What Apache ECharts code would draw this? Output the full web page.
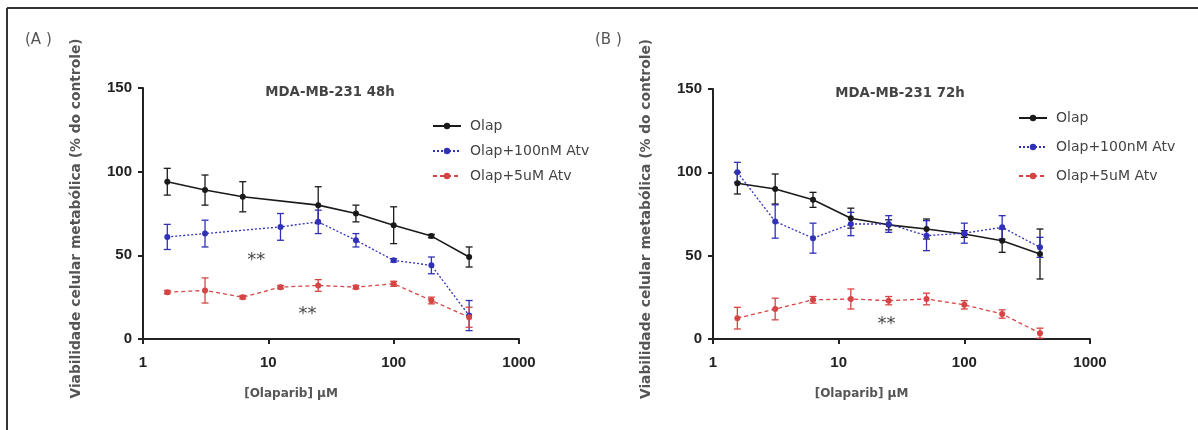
<!DOCTYPE html>
<html>
<head>
<meta charset="utf-8">
<script src="https://cdn.jsdelivr.net/npm/echarts@6/dist/echarts.min.js"></script>
<style>
html,body{margin:0;padding:0;background:#fff;}
#c{width:1198px;height:430px;}
</style>
</head>
<body>
<div id="c"></div>
<script>
// ---- data ----
const concentrations = [1.5625, 3.125, 6.25, 12.5, 25, 50, 100, 200, 400];
const seriesNames = ['Olap', 'Olap+100nM Atv', 'Olap+5uM Atv'];
const panelTitles = ['MDA-MB-231 48h', 'MDA-MB-231 72h'];
const panelLetters = ['(A )', '(B )'];
const xTicks = [1, 10, 100, 1000];
const yTicks = [0, 50, 100, 150];

// Panel A (48h)
const a_olap      = [94, 89, 85, null, 80, 75, 68, 61.5, 49];
const a_olap_err  = [8, 9, 9, null, 11, 5, 11, 1, 6];
const a_atv100    = [61, 63, null, 67, 70, 59, 47, 44, 14];
const a_atv100_err= [7.5, 8, null, 8, 7, 4, 1, 5, 9];
const a_atv5      = [28, 29, 25, 31, 32, 31, 33, 23, 13];
const a_atv5_err  = [1, 7.5, 1, 1, 3.5, 1, 1.5, 2, 6];

// Panel B (72h)
const b_olap      = [93.5, 90, 83.5, 72.5, 68.5, 66, 63, 59, 51];
const b_olap_err  = [6.5, 9, 4.5, 6, 3, 6, 2, 7, 15];
const b_atv100    = [100, 70.5, 60.5, 69, 69, 62, 63.5, 67, 55];
const b_atv100_err= [6, 10, 9, 7, 5, 9, 6, 7, 6];
const b_atv5      = [12.5, 18, 23.5, 24, 23, 24, 20.5, 15, 3.5];
const b_atv5_err  = [6.5, 6.5, 2, 6, 2.5, 3.5, 2.5, 2.5, 3];

// annotations "**" [x, y]
const a_stars = [[8, 47], [20.5, 15]];
const b_stars = [[24, 9]];

// ---- styles ----
const colors = ['#1a1a1a', '#3030b8', '#d64545'];
const dashes = ['solid', [2, 2], [4, 3]];

function pairs(vals) {
  const out = [];
  concentrations.forEach((c, i) => { if (vals[i] != null) out.push([c, vals[i]]); });
  return out;
}
function errTriples(vals, errs) {
  const out = [];
  concentrations.forEach((c, i) => { if (vals[i] != null) out.push([c, vals[i], errs[i]]); });
  return out;
}

function errorSeries(gi, vals, errs, color) {
  return {
    type: 'custom',
    xAxisIndex: gi, yAxisIndex: gi,
    silent: true,
    z: 1,
    data: errTriples(vals, errs),
    encode: { x: 0, y: 1 },
    renderItem: function (params, api) {
      const x = api.value(0), y = api.value(1), e = api.value(2);
      const top = api.coord([x, y + e]);
      const bot = api.coord([x, y - e]);
      const hw = 3.5;
      const st = { stroke: color, lineWidth: 1.3 };
      return {
        type: 'group',
        children: [
          { type: 'line', shape: { x1: top[0], y1: top[1], x2: bot[0], y2: bot[1] }, style: st },
          { type: 'line', shape: { x1: top[0] - hw, y1: top[1], x2: top[0] + hw, y2: top[1] }, style: st },
          { type: 'line', shape: { x1: bot[0] - hw, y1: bot[1], x2: bot[0] + hw, y2: bot[1] }, style: st }
        ]
      };
    }
  };
}

function lineSeries(gi, name, vals, idx) {
  return {
    type: 'line',
    name: name,
    xAxisIndex: gi, yAxisIndex: gi,
    data: pairs(vals),
    connectNulls: true,
    symbol: 'circle',
    symbolSize: 6,
    z: 3,
    lineStyle: { color: colors[idx], width: idx === 0 ? 1.6 : 1.3, type: dashes[idx] },
    itemStyle: { color: colors[idx] },
    emphasis: { disabled: true }
  };
}

function starSeries(gi, pts) {
  return {
    type: 'scatter',
    xAxisIndex: gi, yAxisIndex: gi,
    data: pts,
    symbolSize: 0,
    silent: true,
    label: { show: true, position: 'inside', formatter: '**', color: '#111', fontSize: 18, fontFamily: 'DejaVu Sans' }
  };
}

const panels = [
  { vals: [a_olap, a_atv100, a_atv5], errs: [a_olap_err, a_atv100_err, a_atv5_err], stars: a_stars },
  { vals: [b_olap, b_atv100, b_atv5], errs: [b_olap_err, b_atv100_err, b_atv5_err], stars: b_stars }
];

const grids = [
  { left: 143, right: 679, top: 88, bottom: 91 },
  { left: 713, right: 108, top: 89, bottom: 91 }
];

const axisLine = { lineStyle: { color: '#222', width: 2 } };
const font = 'Liberation Sans, Arial, sans-serif';
const wideFont = 'DejaVu Sans, sans-serif';

const xAxes = grids.map((g, i) => ({
  type: 'log', logBase: 10, min: xTicks[0], max: xTicks[xTicks.length - 1],
  gridIndex: i,
  axisLine: axisLine,
  axisTick: { show: true, length: 5, inside: false, lineStyle: { color: '#222', width: 2 } },
  minorTick: { show: false },
  splitLine: { show: false },
  axisLabel: { color: '#222', fontSize: 15, fontWeight: 'bold', fontFamily: font, margin: 16,
               formatter: v => String(Math.round(v)) },
  name: '[Olaparib] µM',
  nameLocation: 'middle',
  nameGap: 49,
  nameTextStyle: { color: '#555', fontSize: 12, fontWeight: 'bold', fontFamily: wideFont,
                   padding: [0, 80, 0, 0] }
}));

const yAxes = grids.map((g, i) => ({
  type: 'value', min: yTicks[0], max: yTicks[yTicks.length - 1], interval: 50,
  gridIndex: i,
  axisLine: { show: true, lineStyle: { color: '#222', width: 2 } },
  axisTick: { show: true, length: 5, lineStyle: { color: '#222', width: 2 } },
  splitLine: { show: false },
  axisLabel: { color: '#222', fontSize: 15, fontWeight: 'bold', fontFamily: font, margin: 11 },
  name: 'Viabilidade celular metabólica (% do controle)',
  nameLocation: 'middle',
  nameGap: 60,
  nameTextStyle: { color: '#555', fontSize: 13.8, fontWeight: 'bold', fontFamily: wideFont,
                   padding: [0, 10, 0, 0] }
}));

const series = [];
panels.forEach((p, gi) => {
  for (let k = 0; k < 3; k++) series.push(errorSeries(gi, p.vals[k], p.errs[k], colors[k]));
  for (let k = 0; k < 3; k++) series.push(lineSeries(gi, seriesNames[k], p.vals[k], k));
  series.push(starSeries(gi, p.stars));
});

const legendBase = {
  orient: 'vertical',
  data: seriesNames,
  itemWidth: 28,
  itemHeight: 8,
  selectedMode: false,
  textStyle: { color: '#444', fontSize: 14, fontFamily: wideFont, padding: [0, 0, 0, 4] }
};

const option = {
  animation: false,
  backgroundColor: '#fff',
  title: [
    { text: panelTitles[0], left: 325, top: 81, textAlign: 'center',
      textStyle: { fontSize: 13.3, fontWeight: 'bold', color: '#444', fontFamily: wideFont } },
    { text: panelTitles[1], left: 895, top: 82, textAlign: 'center',
      textStyle: { fontSize: 13.3, fontWeight: 'bold', color: '#444', fontFamily: wideFont } }
  ],
  legend: [
    Object.assign({}, legendBase, { left: 427, top: 114, itemGap: 11 }),
    Object.assign({}, legendBase, { left: 1013, top: 106, itemGap: 15 })
  ],
  grid: grids,
  xAxis: xAxes,
  yAxis: yAxes,
  series: series,
  graphic: [
    { type: 'line', shape: { x1: 7, y1: 8, x2: 1198, y2: 8 }, style: { stroke: '#333', lineWidth: 2 } },
    { type: 'line', shape: { x1: 7, y1: 8, x2: 7, y2: 430 }, style: { stroke: '#333', lineWidth: 2 } },
    { type: 'text', left: 25, top: 33, style: { text: panelLetters[0], fill: '#555', fontSize: 15, fontFamily: wideFont } },
    { type: 'text', left: 595, top: 33, style: { text: panelLetters[1], fill: '#555', fontSize: 15, fontFamily: wideFont } }
  ]
};

const chart = echarts.init(document.getElementById('c'), null, { renderer: 'canvas' });
chart.setOption(option);
</script>
</body>
</html>
